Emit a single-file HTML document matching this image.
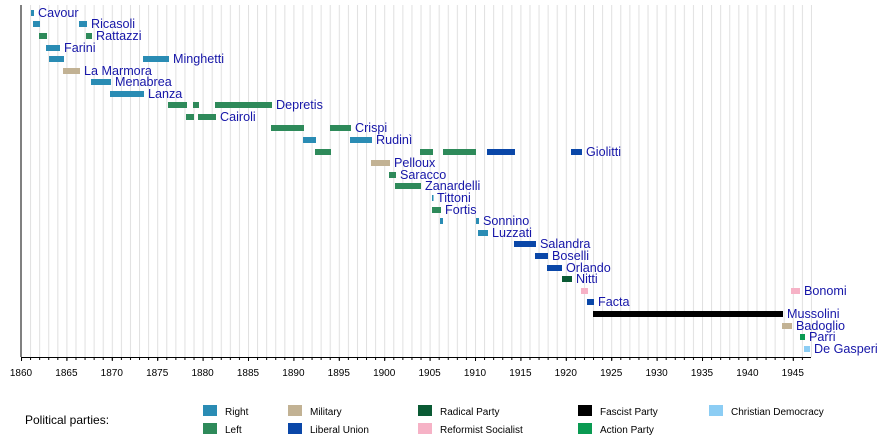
<!DOCTYPE html>
<html><head><meta charset="utf-8"><style>
body{margin:0;background:#fff}
svg{display:block;font-family:"Liberation Sans",sans-serif}
.l{font-size:12.6px;fill:#1616a8}
.t{font-size:10px;fill:#000}
.g{font-size:10px;fill:#000}
</style></head><body>
<svg width="890" height="438" viewBox="0 0 890 438">
<defs>
<pattern id="pg" patternUnits="userSpaceOnUse" x="21" y="0" width="9.08" height="438"><rect x="0" y="0" width="1" height="438" fill="#e0e0e0"/></pattern>
<pattern id="pt" patternUnits="userSpaceOnUse" x="21" y="0" width="9.08" height="438"><rect x="0" y="0" width="1" height="438" fill="#000"/></pattern>
<pattern id="pt5" patternUnits="userSpaceOnUse" x="21" y="0" width="45.4" height="438"><rect x="0" y="0" width="1" height="438" fill="#000"/></pattern>
</defs>
<rect x="29" y="5" width="783" height="352" fill="url(#pg)"/>
<g id="bars">
<rect x="31" y="10" width="3" height="6" fill="#2a8cb4"/>
<rect x="33" y="21" width="7" height="6" fill="#2a8cb4"/><rect x="79" y="21" width="8" height="6" fill="#2a8cb4"/>
<rect x="39" y="33" width="8" height="6" fill="#2e8a5a"/><rect x="86" y="33" width="6" height="6" fill="#2e8a5a"/>
<rect x="46" y="45" width="14" height="6" fill="#2a8cb4"/>
<rect x="49" y="56" width="15" height="6" fill="#2a8cb4"/><rect x="143" y="56" width="26" height="6" fill="#2a8cb4"/>
<rect x="63" y="68" width="17" height="6" fill="#c2b294"/>
<rect x="91" y="79" width="20" height="6" fill="#2a8cb4"/>
<rect x="110" y="91" width="34" height="6" fill="#2a8cb4"/>
<rect x="168" y="102" width="19" height="6" fill="#2e8a5a"/><rect x="193" y="102" width="6" height="6" fill="#2e8a5a"/><rect x="215" y="102" width="57" height="6" fill="#2e8a5a"/>
<rect x="186" y="114" width="8" height="6" fill="#2e8a5a"/><rect x="198" y="114" width="18" height="6" fill="#2e8a5a"/>
<rect x="271" y="125" width="33" height="6" fill="#2e8a5a"/><rect x="330" y="125" width="21" height="6" fill="#2e8a5a"/>
<rect x="303" y="137" width="13" height="6" fill="#2a8cb4"/><rect x="350" y="137" width="22" height="6" fill="#2a8cb4"/>
<rect x="315" y="149" width="16" height="6" fill="#2e8a5a"/><rect x="420" y="149" width="13" height="6" fill="#2e8a5a"/><rect x="443" y="149" width="33" height="6" fill="#2e8a5a"/><rect x="487" y="149" width="28" height="6" fill="#0a47a8"/><rect x="571" y="149" width="11" height="6" fill="#0a47a8"/>
<rect x="371" y="160" width="19" height="6" fill="#c2b294"/>
<rect x="389" y="172" width="7" height="6" fill="#2e8a5a"/>
<rect x="395" y="183" width="26" height="6" fill="#2e8a5a"/>
<rect x="432" y="195" width="1.5" height="6" fill="#2a8cb4"/>
<rect x="432" y="207" width="9" height="6" fill="#2e8a5a"/>
<rect x="440" y="218" width="3" height="6" fill="#2a8cb4"/><rect x="476" y="218" width="3" height="6" fill="#2a8cb4"/>
<rect x="478" y="230" width="10" height="6" fill="#2a8cb4"/>
<rect x="514" y="241" width="22" height="6" fill="#0a47a8"/>
<rect x="535" y="253" width="13" height="6" fill="#0a47a8"/>
<rect x="547" y="265" width="15" height="6" fill="#0a47a8"/>
<rect x="562" y="276" width="10" height="6" fill="#0a5a34"/>
<rect x="581" y="288" width="7" height="6" fill="#f6b2c6"/><rect x="791" y="288" width="9" height="6" fill="#f6b2c6"/>
<rect x="587" y="299" width="7" height="6" fill="#0a47a8"/>
<rect x="593" y="311" width="190" height="6" fill="#000"/>
<rect x="782" y="323" width="10" height="6" fill="#c2b294"/>
<rect x="800" y="334" width="5" height="6" fill="#0a9a52"/>
<rect x="804" y="346" width="6" height="6" fill="#8ccdf4"/>
</g>
<g class="l">
<text x="38" y="17">Cavour</text>
<text x="91" y="28">Ricasoli</text>
<text x="96" y="40">Rattazzi</text>
<text x="64" y="52">Farini</text>
<text x="173" y="63">Minghetti</text>
<text x="84" y="75">La Marmora</text>
<text x="115" y="86">Menabrea</text>
<text x="148" y="98">Lanza</text>
<text x="276" y="109">Depretis</text>
<text x="220" y="121">Cairoli</text>
<text x="355" y="132">Crispi</text>
<text x="376" y="144">Rudinì</text>
<text x="586" y="156">Giolitti</text>
<text x="394" y="167">Pelloux</text>
<text x="400" y="179">Saracco</text>
<text x="425" y="190">Zanardelli</text>
<text x="437" y="202">Tittoni</text>
<text x="445" y="214">Fortis</text>
<text x="483" y="225">Sonnino</text>
<text x="492" y="237">Luzzati</text>
<text x="540" y="248">Salandra</text>
<text x="552" y="260">Boselli</text>
<text x="566" y="272">Orlando</text>
<text x="576" y="283">Nitti</text>
<text x="804" y="295">Bonomi</text>
<text x="598" y="306">Facta</text>
<text x="787" y="318">Mussolini</text>
<text x="796" y="330">Badoglio</text>
<text x="809" y="341">Parri</text>
<text x="814" y="353">De Gasperi</text>
</g>
<line x1="21" y1="5" x2="21" y2="357" stroke="#000"/>
<line x1="21" y1="357.5" x2="811" y2="357.5" stroke="#000"/>
<rect x="21" y="357" width="790" height="3" fill="url(#pt)"/>
<rect x="21" y="357" width="790" height="4" fill="url(#pt5)"/>
<g class="t" text-anchor="middle">
<text x="21" y="376">1860</text><text x="66.4" y="376">1865</text><text x="111.8" y="376">1870</text><text x="157.2" y="376">1875</text><text x="202.6" y="376">1880</text><text x="248" y="376">1885</text><text x="293.4" y="376">1890</text><text x="338.8" y="376">1895</text><text x="384.2" y="376">1900</text><text x="429.6" y="376">1905</text><text x="475" y="376">1910</text><text x="520.4" y="376">1915</text><text x="565.8" y="376">1920</text><text x="611.2" y="376">1925</text><text x="656.6" y="376">1930</text><text x="702" y="376">1935</text><text x="747.4" y="376">1940</text><text x="792.8" y="376">1945</text>
</g>
<text x="25" y="424" style="font-size:12px">Political parties:</text>
<g class="g">
<rect x="203" y="405" width="14" height="11" fill="#2a8cb4"/><text x="225" y="415">Right</text>
<rect x="203" y="423" width="14" height="11" fill="#2e8a5a"/><text x="225" y="433">Left</text>
<rect x="288" y="405" width="14" height="11" fill="#c2b294"/><text x="310" y="415">Military</text>
<rect x="288" y="423" width="14" height="11" fill="#0a47a8"/><text x="310" y="433">Liberal Union</text>
<rect x="418" y="405" width="14" height="11" fill="#0a5a34"/><text x="440" y="415">Radical Party</text>
<rect x="418" y="423" width="14" height="11" fill="#f6b2c6"/><text x="440" y="433">Reformist Socialist</text>
<rect x="578" y="405" width="14" height="11" fill="#000"/><text x="600" y="415">Fascist Party</text>
<rect x="578" y="423" width="14" height="11" fill="#0a9a52"/><text x="600" y="433">Action Party</text>
<rect x="709" y="405" width="14" height="11" fill="#8ccdf4"/><text x="731" y="415">Christian Democracy</text>
</g>
</svg>
</body></html>
